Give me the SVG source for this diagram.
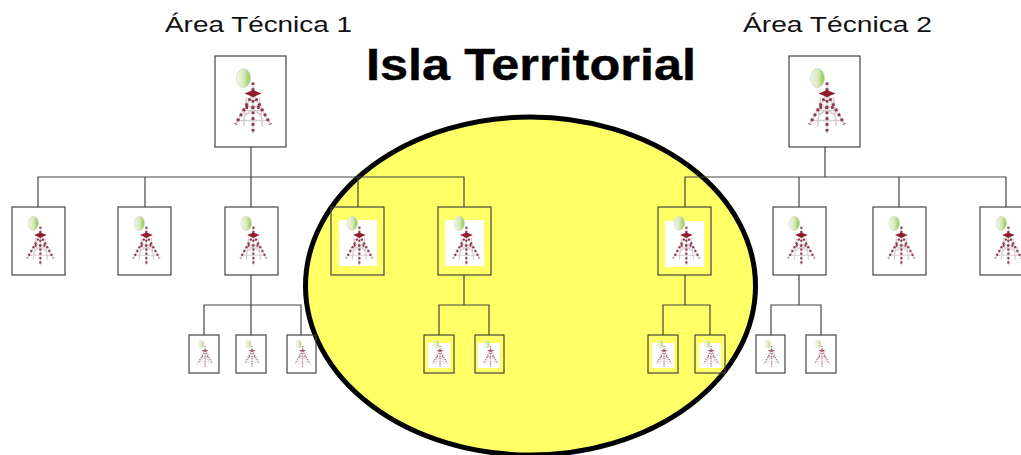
<svg xmlns="http://www.w3.org/2000/svg" width="1021" height="455" viewBox="0 0 1021 455">
<style>
.bg{fill:#fff}
.isla{fill:#ffff66;stroke:#000;stroke-width:5}
.box{fill:none;stroke:#444;stroke-width:1.2}
.patch{fill:#fff}
.wire{fill:none;stroke:#444;stroke-width:1.2}
.lbl{font-family:"Liberation Sans",Arial,sans-serif;fill:#111}
.title{font-family:"Liberation Sans",Arial,sans-serif;font-weight:bold;fill:#000;stroke:#000;stroke-width:.4}
.dish{fill:url(#dishGrad);stroke:#cfd8c8;stroke-width:.8}
.brace{fill:none;stroke:#d8cdd0;stroke-width:1.6}
.leg{fill:none;stroke:#8a3a4c;stroke-width:3;stroke-dasharray:2.600 3.200}
.top{fill:#8f1d2c}
.sm{opacity:.72}
</style>
<defs>
<linearGradient id="dishGrad" x1="0" x2="1" y1="0" y2="0">
<stop offset="0" stop-color="#f2f7ec"/><stop offset=".55" stop-color="#d5e8b8"/><stop offset="1" stop-color="#8cc63f"/>
</linearGradient>
<filter id="soft" x="-10%" y="-10%" width="120%" height="120%"><feGaussianBlur stdDeviation=".55"/></filter>
<g id="tower" filter="url(#soft)">
<ellipse class="dish" cx="-7" cy="-23.500" rx="7" ry="9.500"/>
<path class="brace" d="M2.500-16V32M2.500-8-15 23M2.500-8 20 23M-9 9H14M-13 19H18M-5 2 11 14M10 2-6 14M-4-4-7 25M9-4 12 25"/>
<path class="leg" d="M2.500-19V33M2.500-8-15 23M2.500-8 20 23M-5 6H10"/>
<path class="top" d="M-6-8 2.500-11.500 11-8 2.500-4.500Z"/>
</g>
</defs>
<rect class="bg" width="1021" height="455"/>
<ellipse id="isla" class="isla" cx="530.500" cy="286" rx="225" ry="169"/>
<g id="connectors">
<path class="wire" d="M251 147V177M38 207V177H464V207M145 177V207M251 177V207M358 177V207"/>
<path class="wire" d="M825 147V177M685 207V177H1006V207M799 177V207M899 177V207"/>
<path class="wire" d="M251 275V335M204 335V305H301V335"/>
<path class="wire" d="M464 275V305M439 335V305H489V335"/>
<path class="wire" d="M685 275V305M663 335V305H710V335"/>
<path class="wire" d="M799 275V305M771 335V305H821V335"/>
</g>
<g id="area1"><rect class="box" x="215" y="56" width="71" height="91"/><use href="#tower" transform="translate(250.500 101.500)"/></g>
<g id="area2"><rect class="box" x="789" y="56" width="71" height="91"/><use href="#tower" transform="translate(824.500 101.500)"/></g>
<g id="m1"><rect class="box" x="12" y="207" width="53" height="68"/><use href="#tower" transform="translate(38.500 241) scale(.75)"/></g>
<g id="m2"><rect class="box" x="118" y="207" width="53" height="68"/><use href="#tower" transform="translate(144.500 241) scale(.75)"/></g>
<g id="m3"><rect class="box" x="225" y="207" width="53" height="68"/><use href="#tower" transform="translate(251.500 241) scale(.75)"/></g>
<g id="m4"><rect class="box" x="331" y="207" width="53" height="68"/><rect class="patch" x="339" y="220" width="38" height="46"/><use href="#tower" transform="translate(357.500 241) scale(.75)"/></g>
<g id="m5"><rect class="box" x="438" y="207" width="53" height="68"/><rect class="patch" x="445" y="220" width="39" height="46"/><use href="#tower" transform="translate(464.500 241) scale(.75)"/></g>
<g id="m6"><rect class="box" x="658" y="207" width="53" height="68"/><rect class="patch" x="665" y="221" width="39" height="46"/><use href="#tower" transform="translate(684.500 241) scale(.75)"/></g>
<g id="m7"><rect class="box" x="773" y="207" width="53" height="68"/><use href="#tower" transform="translate(799.500 241) scale(.75)"/></g>
<g id="m8"><rect class="box" x="873" y="207" width="53" height="68"/><use href="#tower" transform="translate(899.500 241) scale(.75)"/></g>
<g id="m9"><rect class="box" x="980" y="207" width="53" height="68"/><use href="#tower" transform="translate(1006.500 241) scale(.75)"/></g>
<g id="s1"><rect class="box" x="189" y="335" width="30" height="38"/><use class="sm" href="#tower" transform="translate(204 354) scale(.42)"/></g>
<g id="s2"><rect class="box" x="236" y="335" width="30" height="38"/><use class="sm" href="#tower" transform="translate(251 354) scale(.42)"/></g>
<g id="s3"><rect class="box" x="287" y="335" width="29" height="38"/><use class="sm" href="#tower" transform="translate(301.500 354) scale(.42)"/></g>
<g id="s4"><rect class="box" x="424" y="335" width="30" height="38"/><rect class="patch" x="428" y="343" width="22" height="25"/><use class="sm" href="#tower" transform="translate(439 354) scale(.42)"/></g>
<g id="s5"><rect class="box" x="475" y="335" width="29" height="38"/><rect class="patch" x="478" y="343" width="22" height="25"/><use class="sm" href="#tower" transform="translate(489.500 354) scale(.42)"/></g>
<g id="s6"><rect class="box" x="648" y="335" width="30" height="38"/><rect class="patch" x="652" y="343" width="22" height="25"/><use class="sm" href="#tower" transform="translate(663 354) scale(.42)"/></g>
<g id="s7"><rect class="box" x="695" y="335" width="30" height="38"/><rect class="patch" x="699" y="343" width="22" height="25"/><use class="sm" href="#tower" transform="translate(710 354) scale(.42)"/></g>
<g id="s8"><rect class="box" x="756" y="335" width="29" height="38"/><use class="sm" href="#tower" transform="translate(770.500 354) scale(.42)"/></g>
<g id="s9"><rect class="box" x="806" y="335" width="30" height="38"/><use class="sm" href="#tower" transform="translate(821 354) scale(.42)"/></g>
<text class="lbl" x="165" y="32" font-size="22.500" textLength="187" lengthAdjust="spacingAndGlyphs">Área Técnica 1</text>
<text class="lbl" x="743" y="32" font-size="22.500" textLength="189" lengthAdjust="spacingAndGlyphs">Área Técnica 2</text>
<text class="title" x="366" y="80" font-size="44" textLength="330" lengthAdjust="spacingAndGlyphs">Isla Territorial</text>
</svg>
